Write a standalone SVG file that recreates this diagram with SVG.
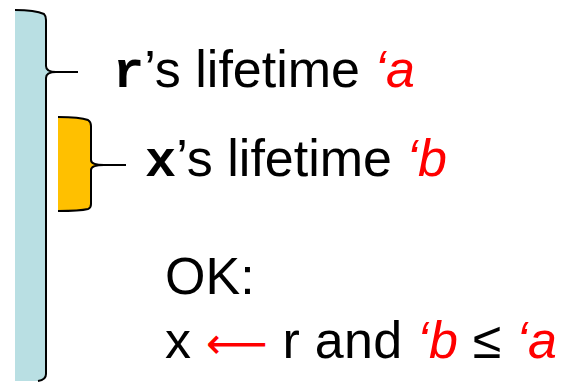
<svg xmlns="http://www.w3.org/2000/svg" width="564" height="382" viewBox="0 0 564 382">
<style>
.t{font-family:"Liberation Sans",Arial,sans-serif;font-size:52px;fill:#000}
.m{font-family:"Liberation Mono","Courier New",monospace;font-weight:bold}
.r{fill:#ff0000;font-style:italic}
.br{stroke:#000;stroke-width:2;fill:none}
</style>
<g id="r-bracket">
<path d="M15,10 Q35,10 44,14 Q46,16 46,20 L46,66 Q46,72 56,72 Q46,72 46,78 L46,374 Q46,380 38,381 L15,381 Z" fill="#b9dfe3"/>
<path class="br" d="M15,10 Q35,10 44,14 Q46,16 46,20 L46,66 Q46,72 56,72 L78,72 M56,72 Q46,72 46,78 L46,374 Q46,380 38,381"/>
</g>
<g id="x-bracket">
<path d="M58,117 Q80,117 88,120 Q91,122 91,126 L91,160 Q91,165 104,165 Q91,165 91,170 L91,204 Q91,208 88,209 Q80,211 58,211 Z" fill="#ffc000"/>
<path class="br" d="M58,117 Q80,117 88,120 Q91,122 91,126 L91,160 Q91,165 104,165 L126,165 M104,165 Q91,165 91,170 L91,204 Q91,208 88,209 Q80,211 58,211"/>
</g>
<g id="labels">
<text class="t" x="113" y="87"><tspan class="m">r</tspan>’s lifetime <tspan class="r">‘a</tspan></text>
<text class="t" x="145" y="176"><tspan class="m">x</tspan>’s lifetime <tspan class="r">‘b</tspan></text>
<text class="t" x="165" y="294">OK:</text>
<text class="t" x="165" y="358" textLength="392" lengthAdjust="spacing">x <tspan fill="#ff0000" font-family="DejaVu Sans" font-size="43">⟵</tspan> r and <tspan class="r">‘b</tspan> ≤ <tspan class="r">‘a</tspan></text>
</g>
</svg>
